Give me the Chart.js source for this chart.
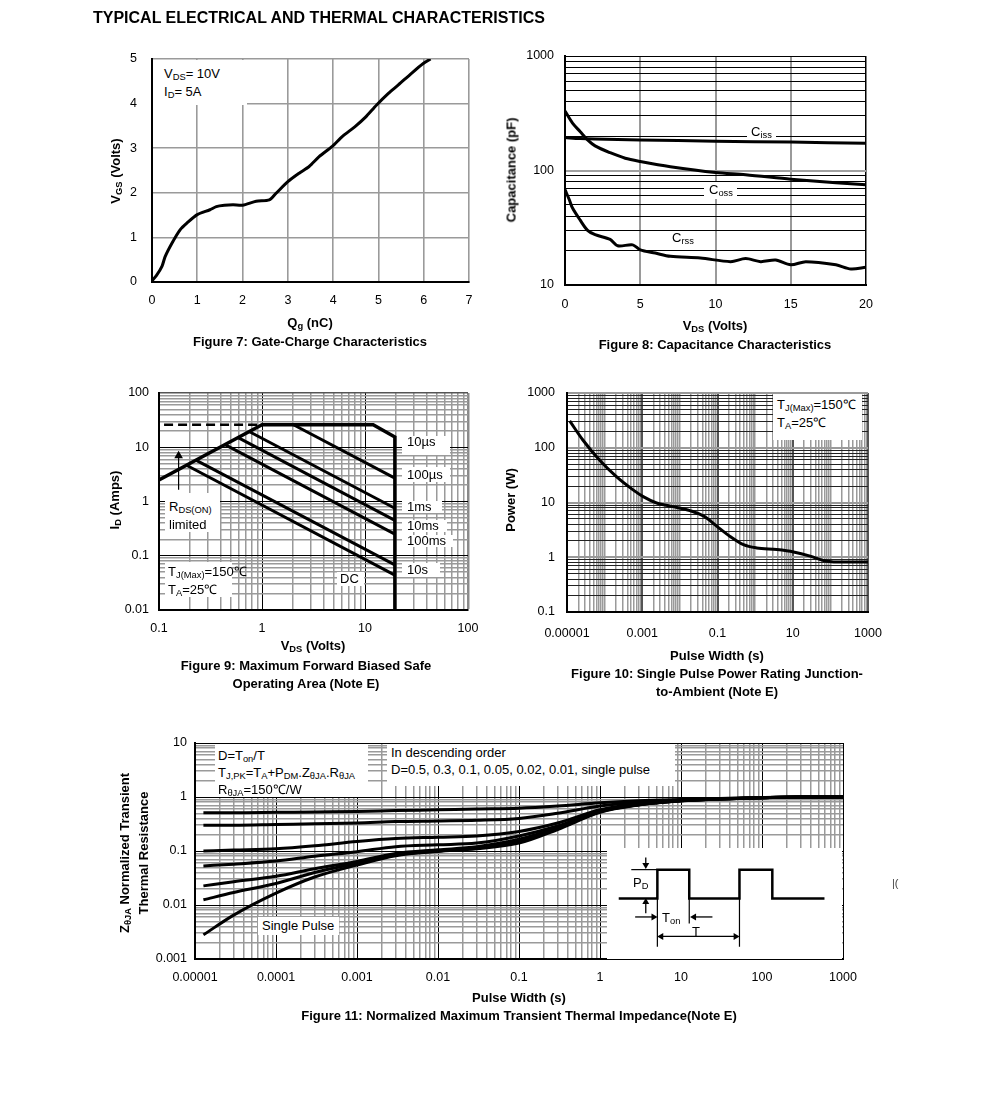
<!DOCTYPE html>
<html><head><meta charset="utf-8">
<script src="https://cdn.jsdelivr.net/npm/chart.js@4.4.1/dist/chart.umd.min.js"></script>
<style>
html,body{margin:0;padding:0;background:#fff;}
#page{position:relative;width:991px;height:1116px;overflow:hidden;background:#fff;font-family:"Liberation Sans",Arial,sans-serif;}
canvas{position:absolute;}
.t{position:absolute;white-space:nowrap;color:#000;line-height:1.15;}
.box{position:absolute;background:#fff;}
sub{font-size:0.72em;vertical-align:-0.3em;line-height:0;}
</style></head>
<body><div id="page"></div>
<script>
// ---------------- DATA ----------------
// Figure 7: gate charge
const qgNC   = [0,0.1,0.22,0.29,0.44,0.62,0.77,1.0,1.28,1.42,1.6,1.79,2.0,2.3,2.59,2.74,3.0,3.25,3.47,3.69,3.98,4.2,4.49,4.71,4.96,5.22,5.44,5.73,5.99,6.15];
const vgsV   = [0.03,0.15,0.35,0.57,0.87,1.17,1.32,1.51,1.62,1.69,1.72,1.73,1.72,1.81,1.84,1.99,2.25,2.44,2.59,2.81,3.04,3.26,3.49,3.69,3.97,4.23,4.42,4.68,4.9,5.0];
const fig7XTicks = [0,1,2,3,4,5,6,7];
const fig7YTicks = [0,1,2,3,4,5];

// Figure 8: capacitance
const cissVds = [0,1,2,5,10,15,20];
const cissPF  = [194,190,188,185,180,177,173];
const cossVds = [0,0.5,1,1.5,2,3,4,5,7,10,12,15,18,20];
const cossPF  = [331,259,219,185,164,143,128,120,108,96,92,84,78,75];
const crssVds = [0,0.3,0.5,1,1.5,2,3,3.5,4.5,5,6,7,9,11,12,13,14,15,16,18,19,20];
const crssPF  = [68,55,47,37,30,27.5,25,22,22.4,20.3,19,17.8,17.2,16,17,16,16.5,15,16,15,13.8,14.3];
const fig8XTicks = [0,5,10,15,20];
const fig8YLabels = [10,100,1000];

// Figure 9: safe operating area (VDS, ID)
const soa10us  = [[0.1,2.5],[1,26],[12,26],[19.5,15.5],[19.5,0.01]];
const soa100us = [[2.02,26],[19.5,2.7]];
const soa1ms   = [[0.757,19.3],[19.5,0.75]];
const soa10ms  = [[0.587,15],[19.5,0.45]];
const soa100ms = [[0.437,11.2],[19.5,0.25]];
const soa10s   = [[0.228,5.8],[19.5,0.068]];
const soaDC    = [[0.183,4.7],[19.5,0.044]];
const soaRdsLimit = [[0.112,26],[1,26]];
const soaArrow = [[0.155,1.64],[0.155,7.0]];
const fig9XLabels = [0.1,1,10,100];
const fig9YLabels = [0.01,0.1,1,10,100];

// Figure 10: single pulse power
const pulseW  = [1.18e-5,2.67e-5,7.4e-5,2.06e-4,5.7e-4,1.06e-3,2.4e-3,6.7e-3,0.0185,0.046,0.095,0.216,0.49,1.1,3.77,10.5,29,66,122,1000];
const powerW  = [309,137,59,29.6,17,12.8,9.8,8.4,7.1,5.5,3.7,2.4,1.7,1.48,1.38,1.25,1.05,0.87,0.82,0.82];
const fig10XLabelVals = [1e-5,1e-3,0.1,10,1000];
const fig10XLabels = ['0.00001','0.001','0.1','10','1000'];
const fig10YLabelVals = [0.1,1,10,100,1000];
const fig10YLabels = ['0.1','1','10','100','1000'];

// Figure 11: normalized transient thermal impedance
const zthT   = [1.27e-5,3e-5,1e-4,3e-4,1e-3,3e-3,0.01,0.03,0.1,0.3,1,3,10,30,100,300,1000];
const zD05   = [0.51,0.51,0.52,0.53,0.54,0.56,0.58,0.60,0.62,0.68,0.78,0.85,0.9,0.94,0.98,1.0,1.0];
const zD03   = [0.30,0.30,0.31,0.32,0.33,0.35,0.36,0.37,0.40,0.50,0.68,0.80,0.88,0.93,0.97,1.0,1.0];
const zD01   = [0.10,0.104,0.11,0.125,0.15,0.17,0.18,0.19,0.23,0.33,0.58,0.75,0.86,0.92,0.97,1.0,1.0];
const zD005  = [0.053,0.057,0.065,0.08,0.097,0.12,0.13,0.14,0.19,0.29,0.55,0.73,0.85,0.92,0.97,1.0,1.0];
const zD002  = [0.0226,0.027,0.034,0.047,0.064,0.09,0.105,0.12,0.165,0.27,0.54,0.72,0.85,0.92,0.97,1.0,1.0];
const zD001  = [0.0125,0.017,0.025,0.04,0.059,0.085,0.1,0.115,0.15,0.26,0.53,0.72,0.85,0.92,0.97,1.0,1.0];
const zSingle= [0.0028,0.0065,0.0166,0.033,0.055,0.082,0.098,0.11,0.14,0.25,0.52,0.71,0.85,0.92,0.97,1.0,1.0];
const fig11XLabelVals = [1e-5,1e-4,1e-3,0.01,0.1,1,10,100,1000];
const fig11XLabels = ['0.00001','0.0001','0.001','0.01','0.1','1','10','100','1000'];
const fig11YLabelVals = [0.001,0.01,0.1,1,10];
const fig11YLabels = ['0.001','0.01','0.1','1','10'];

// Inset pulse diagram (schematic units)
const insetPulseX = [0,40,40,73,73,125,125,159,159,213];
const insetPulseY = [0,0,31,31,0,0,31,31,0,0];
const insetPdRef  = [[13,31],[40,31]];
const insetPdDown = [[28,44],[28,36]];
const insetPdUp   = [[28,-16],[28,-4]];
const insetTonR   = [[17,-20],[36,-20]];
const insetTonL   = [[97,-20],[78,-20]];
const insetMark1  = [[40,0],[40,-52]];
const insetMark2  = [[73,0],[73,-27]];
const insetMark3  = [[125,0],[125,-52]];
const insetTArrow = [[44,-41],[121,-41]];

// ---------------- HELPERS ----------------
const FONT = "'Liberation Sans', Arial, sans-serif";
Chart.defaults.font.family = FONT;
Chart.defaults.font.size = 12.5;
Chart.defaults.color = '#000';
const page = document.getElementById('page');

function logVals(e0, e1){
  const a=[];
  for(let e=e0;e<e1;e++) for(let m=1;m<10;m++) a.push(+(m*Math.pow(10,e)).toPrecision(6));
  a.push(+Math.pow(10,e1).toPrecision(6));
  return a;
}
function isDecade(v){ const l=Math.log10(v); return Math.abs(l-Math.round(l))<1e-6; }
function near(a,b){ return Math.abs(a-b) <= Math.abs(b)*1e-6 + 1e-12; }
function pts(xs,ys){ return xs.map((x,i)=>({x:x,y:ys[i]})); }
function pairs(a){ return a.map(p=>({x:p[0],y:p[1]})); }
function line(data, extra){ return Object.assign({data:data,borderColor:'#000',borderWidth:3,pointRadius:0,fill:false,tension:0}, extra||{}); }

function axis(pos, type, min, max, gridVals, labelVals, labelTexts, style, pad){
  return {
    type:type, position:pos, min:min, max:max,
    afterBuildTicks: s => { s.ticks = gridVals.map(v=>({value:v})); },
    ticks:{ autoSkip:false, maxRotation:0, minRotation:0, padding:pad, color:'#000', font:{size:12.5},
      callback: v => { const i = labelVals.findIndex(u=>near(v,u)); return i>=0 ? labelTexts[i] : ''; } },
    grid:{ drawTicks:false, color: c => style(c.tick ? c.tick.value : 0)[0], lineWidth: c => style(c.tick ? c.tick.value : 0)[1] },
    border:{ display:true, color:'#000', width:2 }
  };
}

function makeChart(plot, datasets, xs, ys){
  const AW=70, AT=32, AR=34, AH=40;
  const c=document.createElement('canvas');
  const w=plot.r-plot.l+AW+AR, h=plot.b-plot.t+AT+AH;
  c.width=w; c.height=h;
  c.style.left=(plot.l-AW)+'px'; c.style.top=(plot.t-AT)+'px';
  c.style.width=w+'px'; c.style.height=h+'px';
  page.appendChild(c);
  xs.afterFit = s => { s.height = AH; };
  ys.afterFit = s => { s.width = AW; };
  return new Chart(c,{type:'line',data:{datasets:datasets},options:{
    responsive:false, animation:false, devicePixelRatio:1,
    layout:{padding:{left:0,top:AT,right:AR,bottom:0}},
    plugins:{legend:{display:false},tooltip:{enabled:false}},
    scales:{x:xs,y:ys}
  }});
}

function txt(x,y,html,o){
  o=o||{};
  const d=document.createElement('div');
  d.className='t'; d.innerHTML=html;
  d.style.left=x+'px'; d.style.top=y+'px';
  d.style.fontSize=(o.fs||13)+'px';
  if(o.bold) d.style.fontWeight='bold';
  if(o.color) d.style.color=o.color;
  d.style.transform = o.rot ? 'translate(-50%,-50%) rotate(-90deg)' : (o.center ? 'translate(-50%,-50%)' : 'translateY(-50%)');
  if(o.rot||o.center) d.style.textAlign='center';
  page.appendChild(d);
}
function box(x1,y1,x2,y2){
  const d=document.createElement('div'); d.className='box';
  d.style.left=x1+'px'; d.style.top=y1+'px'; d.style.width=(x2-x1)+'px'; d.style.height=(y2-y1)+'px';
  page.appendChild(d);
}

// ---------------- FIGURE 7 ----------------
makeChart({l:152,t:59,r:469,b:282},
  [line(pts(qgNC,vgsV),{tension:0.25,borderWidth:3})],
  axis('bottom','linear',0,7,fig7XTicks,fig7XTicks,fig7XTicks.map(String),()=>['#9a9a9a',1.6],11),
  axis('left','linear',0,5,fig7YTicks,fig7YTicks,fig7YTicks.map(String),()=>['#9a9a9a',1.6],15));

// ---------------- FIGURE 8 ----------------
makeChart({l:565,t:56,r:866,b:285},
  [line(pts(cissVds,cissPF),{tension:0.3}),
   line(pts(cossVds,cossPF),{tension:0.3}),
   line(pts(crssVds,crssPF),{tension:0.3})],
  axis('bottom','linear',0,20,fig8XTicks,fig8XTicks,fig8XTicks.map(String),v=> v===20?['#000',1.5]:['#9a9a9a',2],12),
  axis('left','logarithmic',10,1000,logVals(1,3),fig8YLabels,fig8YLabels.map(String),v=> near(v,100)?['#a0a0a0',2]:['#000',1],11));

// ---------------- FIGURE 9 ----------------
makeChart({l:159,t:393,r:468,b:610},
  [line(pairs(soa10us),{borderWidth:3.5}),
   line(pairs(soa100us)), line(pairs(soa1ms)), line(pairs(soa10ms)),
   line(pairs(soa100ms)), line(pairs(soa10s)), line(pairs(soaDC)),
   line(pairs(soaRdsLimit),{borderWidth:2.5,borderDash:[9,5]}),
   line(pairs(soaArrow),{borderWidth:1.2,pointRadius:[0,5],pointStyle:'triangle',pointBackgroundColor:'#000',pointBorderColor:'#000',pointBorderWidth:0})],
  axis('bottom','logarithmic',0.1,100,logVals(-1,2),fig9XLabels,fig9XLabels.map(String),v=> near(v,100)?['#8a8a8a',2.5]:(isDecade(v)&&!near(v,0.1)?['#000',1]:['#9a9a9a',1.5]),11),
  axis('left','logarithmic',0.01,100,logVals(-2,2),fig9YLabels,fig9YLabels.map(String),v=> near(v,100)?['#555',1.5]:(isDecade(v)?['#000',1]:['#9a9a9a',1.5]),10));

// ---------------- FIGURE 10 ----------------
makeChart({l:567,t:393,r:868,b:612},
  [line(pts(pulseW,powerW),{cubicInterpolationMode:'monotone',borderWidth:3})],
  axis('bottom','logarithmic',1e-5,1000,logVals(-5,3),fig10XLabelVals,fig10XLabels,v=> fig10XLabelVals.some(u=>near(v,u))?['#555',2]:['#9a9a9a',1.5],14),
  axis('left','logarithmic',0.1,1000,logVals(-1,3),fig10YLabelVals,fig10YLabels,v=> isDecade(v)?['#9a9a9a',2]:['#222',1],12));

// ---------------- FIGURE 11 ----------------
makeChart({l:195,t:743,r:843,b:959},
  [line(pts(zthT,zD05),{cubicInterpolationMode:'monotone'}),
   line(pts(zthT,zD03),{cubicInterpolationMode:'monotone'}),
   line(pts(zthT,zD01),{cubicInterpolationMode:'monotone'}),
   line(pts(zthT,zD005),{cubicInterpolationMode:'monotone'}),
   line(pts(zthT,zD002),{cubicInterpolationMode:'monotone'}),
   line(pts(zthT,zD001),{cubicInterpolationMode:'monotone'}),
   line(pts(zthT,zSingle),{cubicInterpolationMode:'monotone'})],
  axis('bottom','logarithmic',1e-5,1000,logVals(-5,3),fig11XLabelVals,fig11XLabels,v=> isDecade(v)?['#000',1]:['#9a9a9a',1.5],11),
  axis('left','logarithmic',0.001,10,logVals(-3,1),fig11YLabelVals,fig11YLabels,v=> isDecade(v)?['#000',1]:['#9a9a9a',1.5],8));

// ---------------- INSET (pulse diagram) ----------------
(function(){
  const plot={l:607,t:848,r:842,b:959};
  const c=document.createElement('canvas');
  const w=plot.r-plot.l, h=plot.b-plot.t;
  c.width=w; c.height=h; c.style.left=plot.l+'px'; c.style.top=plot.t+'px';
  c.style.width=w+'px'; c.style.height=h+'px';
  page.appendChild(c);
  const arrow=(d,rot,both)=>line(pairs(d),{borderWidth:1.3,pointStyle:'triangle',pointRadius:both?[4,4]:[0,4],pointRotation:both?[270,90]:[0,rot],pointBackgroundColor:'#000',pointBorderColor:'#000',pointBorderWidth:0});
  new Chart(c,{type:'line',data:{datasets:[
      line(pts(insetPulseX,insetPulseY),{borderWidth:2.5}),
      line(pairs(insetPdRef),{borderWidth:1.2}),
      arrow(insetPdDown,180), arrow(insetPdUp,0),
      arrow(insetTonR,90), arrow(insetTonL,270),
      line(pairs(insetMark1),{borderWidth:1.2}), line(pairs(insetMark2),{borderWidth:1.2}), line(pairs(insetMark3),{borderWidth:1.2}),
      arrow(insetTArrow,0,true)
    ]},
    options:{responsive:false,animation:false,devicePixelRatio:1,layout:{padding:0},
      plugins:{legend:{display:false},tooltip:{enabled:false}},
      scales:{x:{type:'linear',min:-8,max:227,display:false},y:{type:'linear',min:-61,max:50,display:false}}},
    plugins:[{id:'bg',beforeDraw:ch=>{const x=ch.ctx;x.save();x.fillStyle='#fff';x.fillRect(0,0,ch.width,ch.height);x.restore();}}]
  });
})();

// ---------------- TEXT ----------------
txt(93,18,'TYPICAL ELECTRICAL AND THERMAL CHARACTERISTICS',{fs:16,bold:true});

// Fig 7
box(153,60,247,105);
txt(164,74,'V<sub>DS</sub>= 10V');
txt(164,92,'I<sub>D</sub>= 5A');
txt(310,323,'Q<sub>g</sub> (nC)',{bold:true,center:true});
txt(310,342,'Figure 7: Gate-Charge Characteristics',{bold:true,center:true});
txt(116,171,'V<sub>GS</sub> (Volts)',{bold:true,rot:true});

// Fig 8
box(747,126,776,139); txt(751,132,'C<sub>iss</sub>');
box(704,182,737,199); txt(709,190,'C<sub>oss</sub>');
box(666,231,697,244); txt(672,238,'C<sub>rss</sub>');
txt(715,326,'V<sub>DS</sub> (Volts)',{bold:true,center:true});
txt(715,345,'Figure 8: Capacitance Characteristics',{bold:true,center:true});
txt(512,170,'Capacitance (pF)',{bold:true,rot:true});

// Fig 9
box(402,436,450,455); txt(407,442,'10µs');
box(402,467,450,482); txt(407,475,'100µs');
box(402,501,442,513); txt(407,507,'1ms');
box(402,520,447,532); txt(407,526,'10ms');
box(402,535,453,547); txt(407,541,'100ms');
box(402,563,440,577); txt(407,570,'10s');
box(337,572,364,586); txt(340,579,'DC');
box(165,493,220,532); txt(169,507,'R<sub>DS(ON)</sub>'); txt(169,525,'limited');
box(165,562,232,597); txt(168,572,'T<sub>J(Max)</sub>=150℃'); txt(168,590,'T<sub>A</sub>=25℃');
txt(313,646,'V<sub>DS</sub> (Volts)',{bold:true,center:true});
txt(306,666,'Figure 9: Maximum Forward Biased Safe',{bold:true,center:true});
txt(306,684,'Operating Area (Note E)',{bold:true,center:true});
txt(115,500,'I<sub>D</sub> (Amps)',{bold:true,rot:true});

// Fig 10
box(773,394,862,440); txt(777,405,'T<sub>J(Max)</sub>=150℃'); txt(777,423,'T<sub>A</sub>=25℃');
txt(717,656,'Pulse Width (s)',{bold:true,center:true});
txt(717,674,'Figure 10: Single Pulse Power Rating Junction-',{bold:true,center:true});
txt(717,692,'to-Ambient (Note E)',{bold:true,center:true});
txt(511,500,'Power (W)',{bold:true,rot:true});

// Fig 11
box(215,744,368,797);
txt(218,756,'D=T<sub>on</sub>/T');
txt(218,773,'T<sub>J,PK</sub>=T<sub>A</sub>+P<sub>DM</sub>.Z<sub>θJA</sub>.R<sub>θJA</sub>');
txt(218,790,'R<sub>θJA</sub>=150℃/W');
box(387,744,675,786);
txt(391,753,'In descending order');
txt(391,770,'D=0.5, 0.3, 0.1, 0.05, 0.02, 0.01, single pulse');
box(258,917,339,935); txt(262,926,'Single Pulse');
txt(633,883,'P<sub>D</sub>');
txt(662,918,'T<sub>on</sub>');
txt(692,932,'T');
txt(892,883,'|(',{fs:11,color:'#444'});
txt(519,998,'Pulse Width (s)',{bold:true,center:true});
txt(519,1016,'Figure 11: Normalized Maximum Transient Thermal Impedance(Note E)',{bold:true,center:true});
txt(125,853,'Z<sub>θJA</sub> Normalized Transient',{bold:true,rot:true});
txt(144,853,'Thermal Resistance',{bold:true,rot:true});
</script>
</body></html>
